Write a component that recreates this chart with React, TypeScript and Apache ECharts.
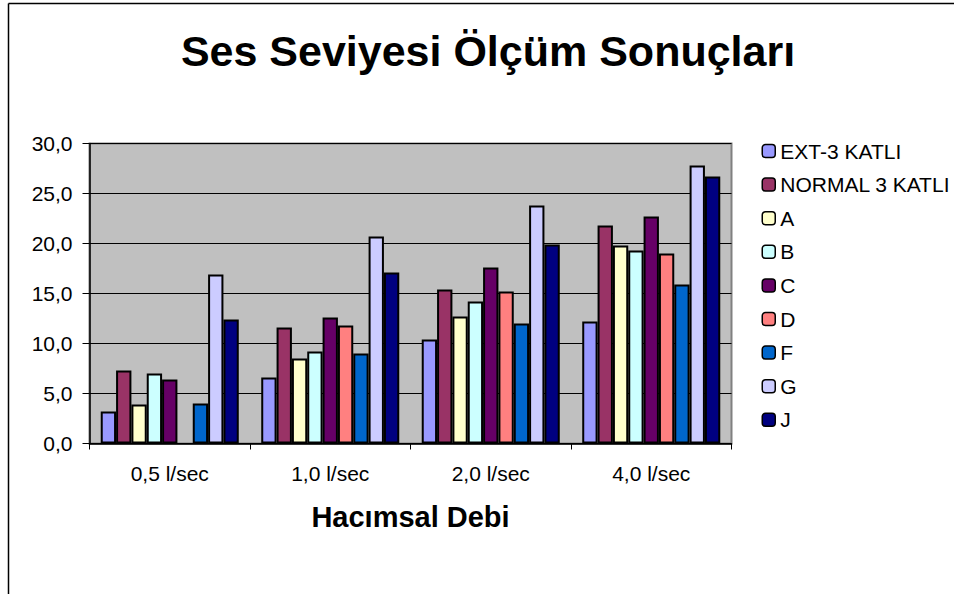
import React, { useEffect, useRef } from "react";
import * as echarts from "echarts";

const categories = ["0,5 l/sec", "1,0 l/sec", "2,0 l/sec", "4,0 l/sec"];
const seriesNames = ["EXT-3 KATLI", "NORMAL 3 KATLI", "A", "B", "C", "D", "F", "G", "J"];
const extValues = [3.2, 6.6, 10.4, 12.2];
const normalValues = [7.3, 11.6, 15.4, 21.8];
const aValues = [3.9, 8.5, 12.7, 19.8];
const bValues = [7.0, 9.2, 14.2, 19.3];
const cValues = [6.4, 12.6, 17.6, 22.7];
const dValues = [null, 11.8, 15.2, 19.0];
const fValues = [4.0, 9.0, 12.0, 15.9];
const gValues = [16.9, 20.7, 23.8, 27.8];
const jValues = [12.4, 17.1, 19.9, 26.7];
const seriesColors = ["#9999FF", "#993366", "#FFFFCC", "#CCFFFF", "#660066", "#FF8080", "#0066CC", "#CCCCFF", "#000080"];
const titleText = "Ses Seviyesi Ölçüm Sonuçları";
const xAxisTitle = "Hacımsal Debi";

const FONT = "Arial, 'Liberation Sans', sans-serif";

export default function App() {
  const ref = useRef<HTMLDivElement>(null);
  useEffect(() => {
    if (!ref.current) return;
    const chart = echarts.init(ref.current, undefined, { renderer: "svg" });
    const allValues = [extValues, normalValues, aValues, bValues, cValues, dValues, fValues, gValues, jValues];
    chart.setOption({
      animation: false,
      backgroundColor: "#ffffff",
      title: {
        text: titleText,
        left: 483,
        textAlign: "center",
        top: 24,
        textStyle: { fontFamily: FONT, fontSize: 43, fontWeight: "bold", color: "#000" },
      },
      legend: {
        orient: "vertical",
        left: 756.5,
        top: 135.5,
        itemWidth: 13,
        itemHeight: 13,
        itemGap: 12.6,
        data: seriesNames,
        textStyle: { fontFamily: FONT, fontSize: 21, lineHeight: 21, color: "#000" },
        itemStyle: { borderColor: "#000", borderWidth: 1.5 },
      },
      grid: {
        left: 89.5,
        top: 143.5,
        width: 642,
        height: 300,
        show: true,
        backgroundColor: "#C0C0C0",
        borderColor: "#808080",
        borderWidth: 2,
      },
      xAxis: {
        type: "category",
        data: categories,
        name: xAxisTitle,
        nameLocation: "middle",
        nameGap: 59,
        nameTextStyle: { fontFamily: FONT, fontSize: 29, fontWeight: "bold", color: "#000" },
        axisLine: { lineStyle: { color: "#000", width: 1.5 } },
        axisTick: { show: true, length: 6, lineStyle: { color: "#000" } },
        axisLabel: { margin: 19, fontFamily: FONT, fontSize: 21, color: "#000" },
      },
      yAxis: {
        type: "value",
        min: 0,
        max: 30,
        interval: 5,
        axisLine: { show: true, lineStyle: { color: "#000", width: 1.5 } },
        axisTick: { show: true, length: 7, lineStyle: { color: "#000" } },
        axisLabel: {
          margin: 17,
          fontFamily: FONT,
          fontSize: 21,
          color: "#000",
          formatter: (v: number) => v.toFixed(1).replace(".", ","),
        },
        splitLine: { show: true, lineStyle: { color: "#000", width: 1 } },
      },
      series: seriesNames.map((name, i) => ({
        name,
        type: "bar",
        data: allValues[i],
        barGap: "0%",
        barCategoryGap: "14%",
        itemStyle: { color: seriesColors[i], borderColor: "#000", borderWidth: 2 },
      })),
      graphic: [
        { type: "line", shape: { x1: 8.5, y1: 3.5, x2: 954, y2: 3.5 }, style: { stroke: "#000", lineWidth: 1.5 } },
        { type: "line", shape: { x1: 8.5, y1: 3.5, x2: 8.5, y2: 594 }, style: { stroke: "#000", lineWidth: 1.5 } },
      ],
    });
    return () => chart.dispose();
  }, []);
  return (
    <div
      ref={ref}
      style={{ position: "absolute", left: 0, top: 0, width: 954, height: 594 }}
    />
  );
}
